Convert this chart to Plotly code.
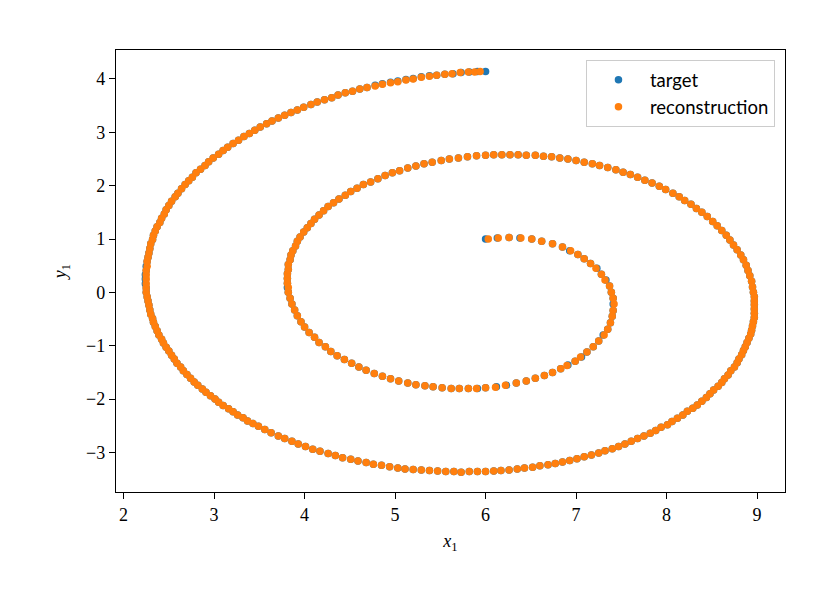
import plotly.graph_objects as go

# ---- data (target spiral) ----
target_x = [
    6.00, 6.13, 6.26, 6.38, 6.51, 6.62, 6.74,
    6.85, 6.93, 7.02, 7.09, 7.16, 7.23, 7.28, 7.33, 7.37,
    7.39, 7.41, 7.41, 7.41, 7.40, 7.38, 7.35, 7.30, 7.25, 7.19,
    7.12, 7.06, 6.99, 6.91, 6.83, 6.74, 6.65, 6.55, 6.45, 6.34, 6.23, 6.12,
    6.00, 5.91, 5.81, 5.71, 5.62, 5.52, 5.42, 5.33, 5.23, 5.14, 5.04, 4.95, 4.86, 4.77, 4.68,
    4.60, 4.52, 4.44, 4.36, 4.29, 4.23, 4.16, 4.11, 4.05, 4.00, 3.96, 3.92, 3.89, 3.86, 3.84,
    3.82, 3.81, 3.81, 3.81, 3.81, 3.82, 3.82, 3.84, 3.85, 3.87, 3.90, 3.92, 3.95, 3.99, 4.03,
    4.07, 4.11, 4.16, 4.21, 4.26, 4.32, 4.38, 4.45, 4.51, 4.58, 4.65, 4.73, 4.81, 4.89, 4.97,
    5.05, 5.14, 5.23, 5.32, 5.41, 5.51, 5.60, 5.70, 5.80, 5.90,
    6.00, 6.09, 6.18, 6.27, 6.36, 6.45, 6.55, 6.64, 6.73, 6.82, 6.91, 7.00, 7.09, 7.18, 7.26,
    7.35, 7.44, 7.52, 7.60, 7.68, 7.76, 7.84, 7.92, 7.99, 8.07, 8.14, 8.20, 8.27, 8.33, 8.39,
    8.45, 8.51, 8.56, 8.61, 8.66, 8.70, 8.74, 8.78, 8.82, 8.85, 8.88, 8.90, 8.92, 8.94, 8.95,
    8.96, 8.97, 8.97, 8.97, 8.97, 8.97, 8.97, 8.96, 8.95, 8.94, 8.93, 8.91, 8.89, 8.87, 8.85,
    8.83, 8.80, 8.78, 8.75, 8.71, 8.68, 8.64, 8.61, 8.57, 8.52, 8.48, 8.44, 8.39, 8.34, 8.29,
    8.23, 8.18, 8.12, 8.06, 8.01, 7.94, 7.88, 7.82, 7.75, 7.68, 7.61, 7.54, 7.47, 7.40, 7.32,
    7.25, 7.17, 7.09, 7.01, 6.93, 6.85, 6.77, 6.69, 6.60, 6.52, 6.43, 6.35, 6.26, 6.17, 6.09,
    6.00, 5.91, 5.82, 5.73, 5.65, 5.56, 5.47, 5.38, 5.29, 5.20, 5.11, 5.03, 4.94, 4.85, 4.76,
    4.68, 4.59, 4.51, 4.42, 4.34, 4.26, 4.17, 4.09, 4.01, 3.93, 3.86, 3.78, 3.71, 3.63, 3.56,
    3.49, 3.43, 3.37, 3.32, 3.26, 3.21, 3.16, 3.10, 3.05, 3.01, 2.96, 2.91, 2.87, 2.82, 2.78,
    2.74, 2.70, 2.66, 2.63, 2.59, 2.56, 2.53, 2.50, 2.47, 2.44, 2.42, 2.39, 2.37, 2.35, 2.33,
    2.32, 2.30, 2.29, 2.28, 2.27, 2.26,
    2.25, 2.25, 2.24, 2.24, 2.24, 2.25, 2.25, 2.26, 2.27, 2.28, 2.29, 2.30, 2.32, 2.33, 2.35,
    2.37, 2.40, 2.42, 2.45, 2.47, 2.50, 2.53, 2.57, 2.60, 2.64, 2.68, 2.72, 2.76, 2.80, 2.85,
    2.90, 2.94, 2.99, 3.05, 3.10, 3.15, 3.21, 3.27, 3.33, 3.39, 3.45, 3.51, 3.58, 3.64, 3.71,
    3.78, 3.85, 3.92, 3.99, 4.07, 4.14, 4.22, 4.30, 4.37, 4.45, 4.53, 4.61, 4.69, 4.78, 4.86,
    4.95, 5.03, 5.12, 5.20, 5.29, 5.38, 5.46, 5.55, 5.64, 5.73, 5.82, 5.91, 6.00,
]
target_y = [
    1.00, 1.02, 1.03, 1.02, 1.00, 0.96, 0.91,
    0.85, 0.78, 0.71, 0.63, 0.54, 0.45, 0.34, 0.23, 0.12,
    0.00, -0.11, -0.22, -0.34, -0.45, -0.57, -0.69, -0.80, -0.91, -1.02,
    -1.12, -1.21, -1.29, -1.36, -1.43, -1.50, -1.56, -1.61, -1.66, -1.70, -1.74, -1.77,
    -1.79, -1.80, -1.80, -1.80, -1.80, -1.79, -1.77, -1.75, -1.73, -1.70, -1.66, -1.62, -1.57, -1.52, -1.46,
    -1.40, -1.33, -1.26, -1.19, -1.11, -1.02, -0.94, -0.84, -0.75, -0.65, -0.55, -0.44, -0.33, -0.22, -0.11,
    0.00, 0.09, 0.17, 0.26, 0.35, 0.43, 0.52, 0.61, 0.70, 0.78, 0.87, 0.96, 1.04, 1.13, 1.21,
    1.29, 1.37, 1.45, 1.53, 1.61, 1.68, 1.75, 1.82, 1.89, 1.95, 2.02, 2.07, 2.13, 2.19, 2.24,
    2.28, 2.33, 2.37, 2.41, 2.44, 2.47, 2.50, 2.52, 2.54, 2.56,
    2.57, 2.58, 2.58, 2.58, 2.58, 2.57, 2.57, 2.55, 2.54, 2.52, 2.50, 2.47, 2.44, 2.41, 2.38,
    2.34, 2.30, 2.25, 2.21, 2.16, 2.10, 2.05, 1.99, 1.93, 1.86, 1.79, 1.72, 1.65, 1.57, 1.50,
    1.42, 1.33, 1.25, 1.16, 1.07, 0.98, 0.89, 0.80, 0.70, 0.61, 0.51, 0.41, 0.31, 0.21, 0.10,
    0.00, -0.08, -0.16, -0.23, -0.31, -0.39, -0.47, -0.55, -0.63, -0.71, -0.78, -0.86, -0.94, -1.02, -1.09,
    -1.17, -1.25, -1.32, -1.40, -1.47, -1.55, -1.62, -1.69, -1.76, -1.83, -1.90, -1.97, -2.04, -2.11, -2.17,
    -2.23, -2.30, -2.36, -2.42, -2.48, -2.53, -2.59, -2.64, -2.69, -2.74, -2.79, -2.84, -2.89, -2.93, -2.97,
    -3.01, -3.05, -3.08, -3.12, -3.15, -3.18, -3.21, -3.23, -3.25, -3.28, -3.29, -3.31, -3.33, -3.34, -3.35,
    -3.36, -3.36, -3.36, -3.37, -3.36, -3.36, -3.35, -3.34, -3.33, -3.32, -3.31, -3.29, -3.27, -3.24, -3.22,
    -3.19, -3.16, -3.13, -3.10, -3.06, -3.02, -2.98, -2.94, -2.89, -2.84, -2.79, -2.74, -2.69, -2.63, -2.57,
    -2.51, -2.46, -2.41, -2.35, -2.30, -2.24, -2.18, -2.12, -2.06, -2.00, -1.94, -1.87, -1.81, -1.74, -1.68,
    -1.61, -1.54, -1.47, -1.40, -1.33, -1.25, -1.18, -1.10, -1.03, -0.95, -0.88, -0.80, -0.72, -0.64, -0.56,
    -0.49, -0.41, -0.33, -0.24, -0.16, -0.08,
    0.00, 0.08, 0.16, 0.25, 0.33, 0.41, 0.49, 0.58, 0.66, 0.74, 0.82, 0.91, 0.99, 1.07, 1.15,
    1.23, 1.31, 1.39, 1.47, 1.55, 1.63, 1.71, 1.79, 1.86, 1.94, 2.02, 2.09, 2.16, 2.24, 2.31,
    2.38, 2.45, 2.52, 2.59, 2.66, 2.72, 2.79, 2.85, 2.92, 2.98, 3.04, 3.10, 3.16, 3.21, 3.27,
    3.32, 3.37, 3.42, 3.47, 3.52, 3.57, 3.61, 3.65, 3.70, 3.74, 3.77, 3.81, 3.84, 3.88, 3.91,
    3.94, 3.96, 3.99, 4.01, 4.04, 4.06, 4.07, 4.09, 4.10, 4.12, 4.13, 4.14, 4.14,
]

# ---- data (reconstruction spiral) ----
recon_x = [
    6.03, 6.14, 6.26, 6.39, 6.51, 6.62, 6.74,
    6.85, 6.94, 7.02, 7.09, 7.16, 7.22, 7.28, 7.32, 7.37,
    7.39, 7.41, 7.42, 7.41, 7.40, 7.38, 7.35, 7.31, 7.25, 7.19,
    7.12, 7.05, 6.99, 6.90, 6.83, 6.74, 6.65, 6.55, 6.45, 6.34, 6.22, 6.11,
    6.00, 5.90, 5.81, 5.71, 5.62, 5.52, 5.42, 5.33, 5.23, 5.14, 5.04, 4.95, 4.86, 4.77, 4.68,
    4.60, 4.52, 4.44, 4.36, 4.29, 4.23, 4.16, 4.11, 4.05, 4.00, 3.96, 3.92, 3.89, 3.86, 3.84,
    3.82, 3.82, 3.81, 3.81, 3.81, 3.82, 3.82, 3.84, 3.85, 3.87, 3.90, 3.92, 3.95, 3.99, 4.03,
    4.07, 4.11, 4.16, 4.21, 4.26, 4.32, 4.38, 4.45, 4.51, 4.58, 4.65, 4.73, 4.81, 4.89, 4.97,
    5.05, 5.14, 5.23, 5.32, 5.41, 5.51, 5.60, 5.70, 5.80, 5.90,
    6.00, 6.09, 6.18, 6.27, 6.36, 6.45, 6.55, 6.64, 6.73, 6.82, 6.91, 7.00, 7.09, 7.18, 7.26,
    7.35, 7.44, 7.52, 7.60, 7.68, 7.76, 7.84, 7.92, 7.99, 8.07, 8.14, 8.20, 8.27, 8.33, 8.39,
    8.45, 8.51, 8.56, 8.61, 8.66, 8.70, 8.74, 8.78, 8.82, 8.85, 8.88, 8.90, 8.92, 8.94, 8.95,
    8.96, 8.97, 8.97, 8.97, 8.97, 8.97, 8.97, 8.96, 8.95, 8.94, 8.93, 8.91, 8.89, 8.87, 8.85,
    8.83, 8.80, 8.78, 8.75, 8.71, 8.68, 8.64, 8.61, 8.57, 8.52, 8.48, 8.44, 8.39, 8.34, 8.29,
    8.23, 8.18, 8.12, 8.06, 8.01, 7.94, 7.88, 7.82, 7.75, 7.68, 7.61, 7.54, 7.47, 7.40, 7.32,
    7.25, 7.17, 7.09, 7.01, 6.93, 6.85, 6.77, 6.69, 6.60, 6.52, 6.43, 6.35, 6.26, 6.17, 6.09,
    6.00, 5.91, 5.82, 5.73, 5.65, 5.56, 5.47, 5.38, 5.29, 5.20, 5.11, 5.03, 4.94, 4.85, 4.76,
    4.68, 4.59, 4.51, 4.42, 4.34, 4.26, 4.17, 4.09, 4.01, 3.93, 3.86, 3.78, 3.71, 3.63, 3.56,
    3.49, 3.43, 3.37, 3.32, 3.26, 3.21, 3.16, 3.10, 3.05, 3.01, 2.96, 2.91, 2.87, 2.82, 2.78,
    2.74, 2.70, 2.66, 2.63, 2.59, 2.56, 2.53, 2.50, 2.47, 2.44, 2.42, 2.39, 2.37, 2.35, 2.33,
    2.32, 2.30, 2.29, 2.28, 2.27, 2.26,
    2.25, 2.25, 2.25, 2.25, 2.25, 2.25, 2.26, 2.26, 2.27, 2.28, 2.29, 2.30, 2.32, 2.33, 2.35,
    2.37, 2.40, 2.42, 2.45, 2.47, 2.50, 2.53, 2.57, 2.60, 2.64, 2.68, 2.72, 2.76, 2.80, 2.85,
    2.90, 2.94, 2.99, 3.05, 3.10, 3.15, 3.21, 3.27, 3.33, 3.39, 3.45, 3.51, 3.58, 3.64, 3.71,
    3.78, 3.85, 3.92, 3.99, 4.07, 4.14, 4.22, 4.30, 4.37, 4.45, 4.53, 4.61, 4.69, 4.78, 4.86,
    4.95, 5.03, 5.12, 5.20, 5.29, 5.38, 5.46, 5.55, 5.63, 5.72, 5.81, 5.88, 5.94,
]
recon_y = [
    1.00, 1.02, 1.03, 1.02, 1.00, 0.96, 0.91,
    0.85, 0.78, 0.71, 0.63, 0.54, 0.45, 0.34, 0.23, 0.12,
    0.00, -0.11, -0.22, -0.34, -0.45, -0.57, -0.69, -0.80, -0.91, -1.02,
    -1.12, -1.21, -1.29, -1.37, -1.43, -1.50, -1.56, -1.61, -1.66, -1.70, -1.74, -1.78,
    -1.79, -1.80, -1.80, -1.80, -1.80, -1.79, -1.77, -1.75, -1.73, -1.70, -1.66, -1.62, -1.57, -1.52, -1.46,
    -1.40, -1.33, -1.26, -1.19, -1.11, -1.02, -0.94, -0.84, -0.75, -0.65, -0.55, -0.44, -0.33, -0.22, -0.11,
    0.00, 0.09, 0.17, 0.26, 0.35, 0.43, 0.52, 0.61, 0.70, 0.78, 0.87, 0.96, 1.04, 1.13, 1.21,
    1.29, 1.37, 1.45, 1.53, 1.61, 1.68, 1.75, 1.82, 1.89, 1.95, 2.02, 2.07, 2.13, 2.19, 2.24,
    2.28, 2.33, 2.37, 2.41, 2.44, 2.47, 2.50, 2.52, 2.54, 2.56,
    2.57, 2.58, 2.58, 2.58, 2.58, 2.57, 2.57, 2.55, 2.54, 2.52, 2.50, 2.47, 2.44, 2.41, 2.38,
    2.34, 2.30, 2.25, 2.21, 2.16, 2.10, 2.05, 1.99, 1.93, 1.86, 1.79, 1.72, 1.65, 1.57, 1.50,
    1.42, 1.33, 1.25, 1.16, 1.07, 0.98, 0.89, 0.80, 0.70, 0.61, 0.51, 0.41, 0.31, 0.21, 0.10,
    0.00, -0.08, -0.16, -0.23, -0.31, -0.39, -0.47, -0.55, -0.63, -0.71, -0.78, -0.86, -0.94, -1.02, -1.09,
    -1.17, -1.25, -1.32, -1.40, -1.47, -1.55, -1.62, -1.69, -1.76, -1.83, -1.90, -1.97, -2.04, -2.11, -2.17,
    -2.23, -2.30, -2.36, -2.42, -2.48, -2.53, -2.59, -2.64, -2.69, -2.74, -2.79, -2.84, -2.89, -2.93, -2.97,
    -3.01, -3.05, -3.08, -3.12, -3.15, -3.18, -3.21, -3.23, -3.25, -3.28, -3.29, -3.31, -3.33, -3.34, -3.35,
    -3.36, -3.36, -3.36, -3.37, -3.36, -3.36, -3.35, -3.34, -3.33, -3.32, -3.31, -3.29, -3.27, -3.24, -3.22,
    -3.19, -3.16, -3.13, -3.10, -3.06, -3.02, -2.98, -2.94, -2.89, -2.84, -2.79, -2.74, -2.69, -2.63, -2.57,
    -2.51, -2.46, -2.41, -2.35, -2.30, -2.24, -2.18, -2.12, -2.06, -2.00, -1.94, -1.87, -1.81, -1.74, -1.68,
    -1.61, -1.54, -1.47, -1.40, -1.33, -1.25, -1.18, -1.10, -1.03, -0.95, -0.88, -0.80, -0.72, -0.64, -0.56,
    -0.49, -0.41, -0.33, -0.24, -0.16, -0.08,
    0.00, 0.08, 0.16, 0.25, 0.33, 0.41, 0.49, 0.58, 0.66, 0.74, 0.82, 0.91, 0.99, 1.07, 1.15,
    1.23, 1.31, 1.39, 1.47, 1.55, 1.63, 1.71, 1.79, 1.86, 1.94, 2.02, 2.09, 2.16, 2.24, 2.31,
    2.38, 2.45, 2.52, 2.59, 2.66, 2.72, 2.79, 2.85, 2.92, 2.98, 3.04, 3.10, 3.16, 3.21, 3.27,
    3.32, 3.37, 3.42, 3.47, 3.52, 3.57, 3.61, 3.65, 3.70, 3.74, 3.77, 3.81, 3.84, 3.87, 3.90,
    3.93, 3.95, 3.98, 4.00, 4.03, 4.05, 4.07, 4.09, 4.10, 4.12, 4.13, 4.13, 4.14,
]

x_ticks = [2, 3, 4, 5, 6, 7, 8, 9]
y_ticks = [-3, -2, -1, 0, 1, 2, 3, 4]
series_names = ["target", "reconstruction"]

assert len(target_x) == len(target_y)
assert len(recon_x) == len(recon_y)

BLUE = "#1f77b4"
ORANGE = "#ff7f0e"
SERIF = "Liberation Serif, DejaVu Serif, serif"

fig = go.Figure()
fig.add_trace(go.Scatter(
    x=target_x, y=target_y, mode="markers", name=series_names[0],
    legendgroup="a", marker=dict(color=BLUE, size=7.5, line=dict(width=0)),
))
fig.add_trace(go.Scatter(
    x=recon_x, y=recon_y, mode="markers", name=series_names[1],
    legendgroup="b", marker=dict(color=ORANGE, size=7.5, line=dict(width=0)),
))

axis_common = dict(
    showgrid=False, zeroline=False, showline=True, linecolor="black",
    linewidth=1.3, mirror=True, ticks="outside", ticklen=6, tickwidth=1.3,
    tickcolor="black", tickfont=dict(family=SERIF, size=18, color="black"),
)

fig.update_layout(
    width=835, height=601,
    margin=dict(l=116, r=50, t=50, b=109),
    paper_bgcolor="white", plot_bgcolor="white",
    xaxis=dict(
        range=[1.916, 9.309], tickmode="array", tickvals=x_ticks,
        ticktext=[str(v) for v in x_ticks],
        title=dict(text="<i>x</i><sub>1</sub>", font=dict(family=SERIF, size=18, color="black"), standoff=10),
        **axis_common,
    ),
    yaxis=dict(
        range=[-3.742, 4.543], tickmode="array", tickvals=y_ticks,
        ticktext=[("\u2212" + str(-v)) if v < 0 else str(v) for v in y_ticks],
        title=dict(text="<i>y</i><sub>1</sub>", font=dict(family=SERIF, size=18, color="black"), standoff=14),
        **axis_common,
    ),
    legend=dict(
        x=0.985, y=0.977, xanchor="right", yanchor="top",
        bgcolor="rgba(255,255,255,0.8)", bordercolor="#cccccc", borderwidth=1,
        font=dict(family="Lato, Noto Sans, sans-serif", size=18.5, color="black"),
        traceorder="grouped", tracegroupgap=0, itemwidth=53,
    ),
    showlegend=True,
)

fig.write_html("out.html", config={"displayModeBar": False})

# remove the browser's default page margin so the figure sits at (0, 0)
with open("out.html", "r", encoding="utf-8") as fh:
    page = fh.read()
page = page.replace("<head>", "<head><style>html,body{margin:0;padding:0;overflow:hidden;}</style>", 1)
with open("out.html", "w", encoding="utf-8") as fh:
    fh.write(page)
